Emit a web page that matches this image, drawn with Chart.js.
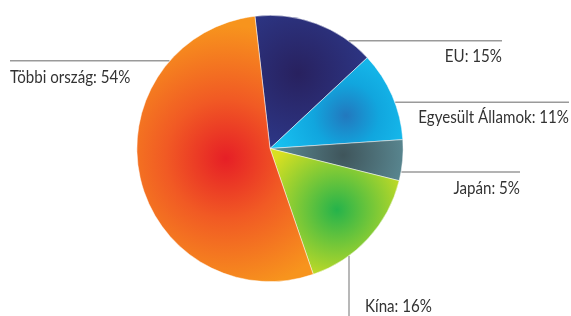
<!DOCTYPE html>
<html>
<head>
<meta charset="utf-8">
<script src="https://cdn.jsdelivr.net/npm/chart.js@4"></script>
<style>
  html, body { margin: 0; padding: 0; background: #fff; }
  #wrap { width: 571px; height: 316px; }
</style>
</head>
<body>
<div id="wrap"><canvas id="pie"></canvas></div>
<script>
// Data
const labels = ['EU', 'Egyesült Államok', 'Japán', 'Kína', 'Többi ország'];
const shares = [15, 11, 5, 16, 54];

// Gradient per slice: center colour, edge colour, center offset along mid angle, gradient radius
const sliceStyles = [
    { inner: '#28215f', outer: '#2e3d92', f: 0.6, r: 0.75 },
    { inner: '#2278be', mid: '#11a6de', outer: '#17c0f0', f: 0.62, r: 0.55 },
    { inner: '#3f555b', outer: '#5b8a94', f: 0.55, r: 0.5 },
    { inner: '#25b34b', outer: '#d9e021', f: 0.68, r: 0.6 },
    { inner: '#e61f26', mid: '#f15a24', outer: '#f7941d', f: 0.34, r: 1.0 }
];

const ROTATION = -6.5;
const FONT = '17px Lato, "Open Sans", sans-serif';
const TEXT_SQUEEZE = 0.89; // narrow typeface look

function pieGeometry(chart) {
    const a = chart.chartArea;
    return {
        cx: (a.left + a.right) / 2,
        cy: (a.top + a.bottom) / 2,
        r: Math.min(a.right - a.left, a.bottom - a.top) / 2
    };
}

function sliceGradient(context) {
    const chart = context.chart;
    if (!chart.chartArea) return sliceStyles[context.dataIndex].outer;
    const { cx, cy, r } = pieGeometry(chart);
    const total = shares.reduce((s, v) => s + v, 0);
    let start = -Math.PI / 2 + ROTATION * Math.PI / 180;
    for (let i = 0; i < context.dataIndex; i++) start += shares[i] / total * 2 * Math.PI;
    const sweep = shares[context.dataIndex] / total * 2 * Math.PI;
    const mid = start + sweep / 2;
    const st = sliceStyles[context.dataIndex];
    const gx = cx + Math.cos(mid) * r * st.f;
    const gy = cy + Math.sin(mid) * r * st.f;
    const g = chart.ctx.createRadialGradient(gx, gy, 0, gx, gy, r * st.r);
    g.addColorStop(0, st.inner);
    if (st.mid) g.addColorStop(0.45, st.mid);
    g.addColorStop(1, st.outer);
    return g;
}

// Callout lines and labels
const callouts = [
    { idx: 0, lineY: 40.7, endX: 502, textX: 502, textY: 62, align: 'right' },
    { idx: 1, lineY: 102.3, endX: 569, textX: 569, textY: 123, align: 'right' },
    { idx: 2, lineY: 172, endX: 520, textX: 520, textY: 194, align: 'right' },
    { idx: 3, lineX: 349, endY: 316, textX: 365, textY: 312, align: 'left' },
    { idx: 4, lineY: 60.7, endX: 10, textX: 10, textY: 83, align: 'left' }
];

const calloutPlugin = {
    id: 'callouts',
    afterDraw(chart) {
        const { cx, cy, r } = pieGeometry(chart);
        const ctx = chart.ctx;
        ctx.save();
        ctx.strokeStyle = '#9a9a9a';
        ctx.lineWidth = 1.4;
        ctx.font = FONT;
        ctx.fillStyle = '#333';
        ctx.textBaseline = 'alphabetic';
        callouts.forEach(c => {
            ctx.beginPath();
            if (c.lineX !== undefined) {
                const y0 = cy + Math.sqrt(r * r - (c.lineX - cx) ** 2);
                ctx.moveTo(c.lineX, y0);
                ctx.lineTo(c.lineX, c.endY);
            } else {
                const dx = Math.sqrt(r * r - (c.lineY - cy) ** 2);
                const x0 = c.endX > cx ? cx + dx : cx - dx;
                ctx.moveTo(x0, c.lineY);
                ctx.lineTo(c.endX, c.lineY);
            }
            ctx.stroke();
            ctx.save();
            ctx.translate(c.textX, c.textY);
            ctx.scale(TEXT_SQUEEZE, 1);
            ctx.textAlign = c.align;
            ctx.fillText(labels[c.idx] + ': ' + shares[c.idx] + '%', 0, 0);
            ctx.restore();
        });
        ctx.restore();
    }
};

new Chart(document.getElementById('pie'), {
    type: 'pie',
    data: {
        labels: labels,
        datasets: [{
            data: shares,
            backgroundColor: sliceGradient,
            borderColor: 'rgba(255,255,255,0.6)',
            borderWidth: 0.8
        }]
    },
    options: {
        responsive: true,
        maintainAspectRatio: false,
        animation: false,
        rotation: ROTATION,
        layout: { padding: { left: 136.5, right: 167.5, top: 15, bottom: 34 } },
        plugins: {
            legend: { display: false },
            tooltip: { enabled: false }
        }
    },
    plugins: [calloutPlugin]
});
</script>
</body>
</html>
